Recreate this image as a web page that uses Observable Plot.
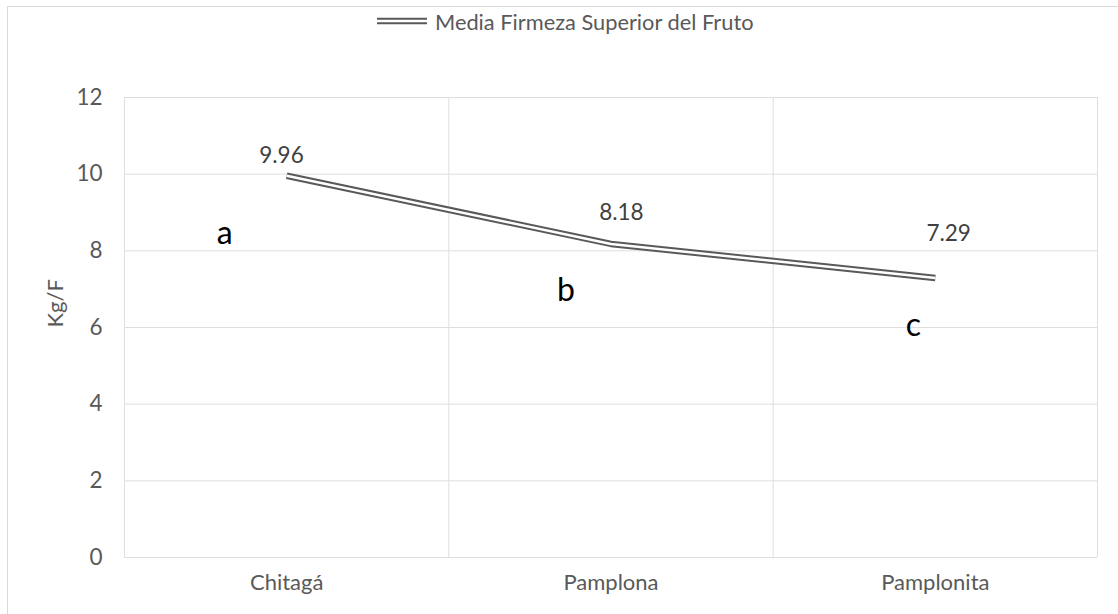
<!DOCTYPE html>
<html><head><meta charset="utf-8">
<script src="https://cdn.jsdelivr.net/npm/d3@7"></script>
<script src="https://cdn.jsdelivr.net/npm/@observablehq/plot@0.6"></script>
<style>
body{margin:0;background:#fff;font-family:Lato,sans-serif;}
#wrap{position:relative;width:1118px;height:614px;overflow:hidden;background:#fff;}
#frame{position:absolute;left:7px;top:6px;width:1200px;height:700px;border:1.5px solid #d9d9d9;box-sizing:border-box;pointer-events:none;}
#legend{position:absolute;top:7px;left:377px;height:28px;display:flex;align-items:center;font-family:Lato,sans-serif;font-size:21.8px;color:#595959;white-space:nowrap;}
#legend svg{margin-right:8px;}
#chart{position:absolute;left:0;top:0;}
</style>
</head><body>
<div id="wrap">
  <div id="chart"></div>
  <div id="frame"></div>
  <div id="legend"><svg width="50" height="10"><line x1="0" x2="50" y1="5" y2="5" stroke="#595959" stroke-width="6.5"/><line x1="0" x2="50" y1="5" y2="5" stroke="#fff" stroke-width="2.5"/></svg><span>Media Firmeza Superior del Fruto</span></div>
</div>
<script>
const categories = ["Chitagá", "Pamplona", "Pamplonita"];
const values = [9.96, 8.18, 7.29];
const valueLabels = ["9.96", "8.18", "7.29"];
const labelX = [0.484, 1.532, 2.541];
const labelY = [10.49, 8.99, 8.45];
const letters = ["a", "b", "c"];
const letterX = [0.309, 1.361, 2.432];
const letterY = [8.45, 6.97, 6.05];
const yTicks = [0, 2, 4, 6, 8, 10, 12];
const xBounds = [0, 1, 2, 3];

const points = categories.map((c, i) => ({x: i + 0.5, y: values[i]}));
const lbls = valueLabels.map((t, i) => ({x: labelX[i], y: labelY[i], t}));
const lets = letters.map((t, i) => ({x: letterX[i], y: letterY[i], t}));

const chart = Plot.plot({
  width: 1118, height: 614,
  marginLeft: 124, marginRight: 21, marginTop: 97, marginBottom: 57,
  x: {domain: [0, 3], axis: null},
  y: {domain: [0, 12], axis: null},
  style: {fontFamily: "Lato, sans-serif", background: "transparent", overflow: "visible"},
  marks: [
    Plot.ruleY(yTicks, {stroke: "#dedede", strokeWidth: 1}),
    Plot.ruleX(xBounds, {stroke: "#dedede", strokeWidth: 1}),
    Plot.axisY(yTicks, {tickSize: 0, tickPadding: 22, fontSize: 22.5, fill: "#595959", label: null}),
    Plot.axisX([0.5, 1.5, 2.5], {tickSize: 0, tickPadding: 17, fontSize: 22, fill: "#595959", label: null,
      tickFormat: d => categories[Math.floor(d)]}),
    Plot.text(["Kg/F"], {frameAnchor: "left", dx: -69, rotate: -90, fontSize: 22, fill: "#595959"}),
    Plot.line(points, {x: "x", y: "y", stroke: "#595959", strokeWidth: 6.5, strokeLinecap: "butt", strokeLinejoin: "miter"}),
    Plot.line(points, {x: "x", y: "y", stroke: "#ffffff", strokeWidth: 2.5, strokeLinecap: "butt", strokeLinejoin: "miter"}),
    Plot.text(lbls, {x: "x", y: "y", text: "t", fontSize: 22.5, fill: "#404040"}),
    Plot.text(lets, {x: "x", y: "y", text: "t", fontSize: 32, fill: "#000000"})
  ]
});
document.getElementById("chart").appendChild(chart);
</script>
</body></html>
